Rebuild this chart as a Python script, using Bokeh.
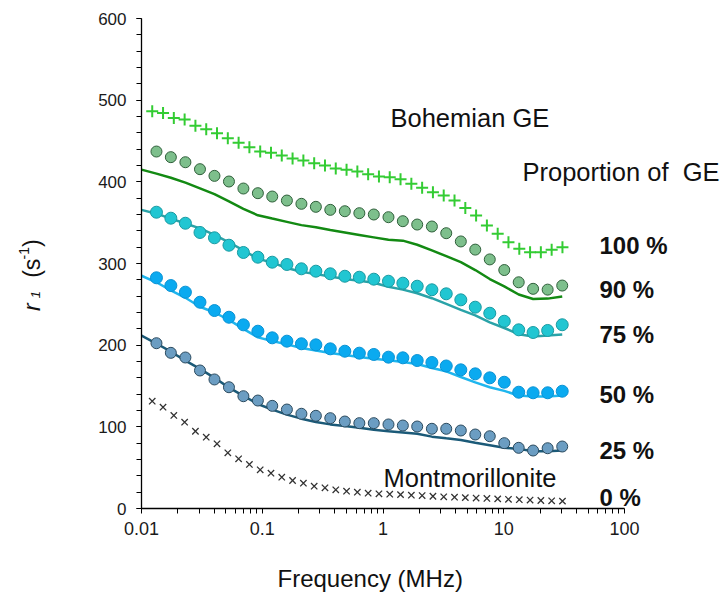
from bokeh.plotting import figure
from bokeh.layouts import row, column
from bokeh.models import Range1d, FixedTicker, Label, NumeralTickFormatter
from bokeh.embed import file_html
from bokeh.resources import INLINE
import math

# ---------------- data ----------------
x_ticks = [0.01, 0.1, 1, 10, 100]
x_tick_labels = ["0.01", "0.1", "1", "10", "100"]
y_ticks = [0, 100, 200, 300, 400, 500, 600]
y_tick_labels = ["0", "100", "200", "300", "400", "500", "600"]

# frequencies (MHz) of the circle data sets
freq_circ = [0.0133, 0.0175, 0.0231, 0.0305, 0.0402, 0.0530, 0.0698, 0.0920, 0.121,
             0.160, 0.211, 0.278, 0.366, 0.483, 0.637, 0.839, 1.11, 1.46, 1.92,
             2.54, 3.34, 4.41, 5.81, 7.66, 10.1, 13.3, 17.5, 23.1, 30.5]
# frequencies of the fitted curves
freq_line = [0.01, 0.0133, 0.0175, 0.0231, 0.0305, 0.0402, 0.0530, 0.0698, 0.0920, 0.121,
             0.160, 0.211, 0.278, 0.366, 0.483, 0.637, 0.839, 1.11, 1.46, 1.92,
             2.54, 3.34, 4.41, 5.81, 7.66, 10.1, 13.3, 17.5, 23.1, 30.5]
# frequencies of the pure samples (+ and x)
freq_pure = [0.01227, 0.01508, 0.01852, 0.02276, 0.02796, 0.03436, 0.04221, 0.05186,
             0.06371, 0.07827, 0.09616, 0.1181, 0.1451, 0.1783, 0.2191, 0.2692, 0.3307,
             0.4063, 0.4991, 0.6132, 0.7534, 0.9256, 1.137, 1.397, 1.717, 2.109, 2.591,
             3.183, 3.911, 4.805, 5.902, 7.252, 8.909, 10.94, 13.45, 16.52, 20.29, 24.93, 30.63]

bohemian_ge = [486.5, 484.4, 478.3, 476.3, 468.6, 464.5, 459.6, 453.5, 447.8, 442.4, 437.1,
               435.5, 432.2, 428.5, 426.1, 422.8, 420, 416.3, 414.7, 412.6, 409.4, 406.5,
               405.6, 403.2, 397.6, 392.7, 387.3, 383.2, 377.1, 368.1, 358.7, 346.5, 336.3,
               326.1, 318, 313.8, 313.8, 316.8, 320]
montmorillonite = [131.4, 124, 113.9, 105.7, 94.6, 87.3, 79.2, 68.2, 60.8, 53.9, 47.4, 43.2,
                   38.3, 34.3, 31, 27.3, 25.3, 22.9, 21.2, 20, 18.7, 18, 17.5, 17, 16.3,
                   15.8, 15, 14.3, 13.8, 13.3, 12.8, 12.3, 11.8, 11.3, 10.8, 10.3, 9.8, 9.4, 9]

circ_90 = [437.1, 430.2, 424, 415.5, 407.3, 400.4, 391.8, 386.1, 382, 377.1, 373.1, 369.4,
           365.7, 364, 361.6, 360, 356.7, 351.8, 347.7, 345.3, 337.1, 327, 317, 305, 292,
           277, 269, 268, 273]
circ_75 = [362.8, 355.5, 349.3, 338, 331.5, 322.4, 313.5, 307.7, 301.6, 298.8, 293.5, 290.6,
           287.4, 284.4, 283.2, 280.8, 278.3, 275.9, 272.2, 267.8, 262.9, 255.5, 246.5, 239.1,
           229.3, 218.8, 215.5, 218, 225]
circ_50 = [282.5, 273, 264.9, 252.6, 242.4, 234.2, 224.9, 217.1, 209, 204.9, 201.7, 200.4,
           195.5, 192.6, 190.2, 188.6, 185.3, 184.5, 181.2, 178.8, 174.5, 169.8, 164.9, 160,
           154.6, 142.4, 141.7, 141.7, 143.6]
circ_25 = [202.4, 190.6, 184.9, 169, 158, 148.5, 137.5, 132.2, 125.7, 121.2, 116, 113.5,
           110.6, 106.5, 104.5, 104.5, 102.9, 101.6, 100.4, 97.6, 97.6, 95.5, 90.6, 88.5, 80,
           74.3, 71, 73.8, 75.9]

line_90 = [415, 410, 405, 399, 392, 385, 376, 367, 359, 355, 351, 347, 344.5, 341, 338, 335,
           332, 329, 328, 323, 316, 309, 301.6, 292, 281, 272, 262, 256.5, 257, 259.6]
line_75 = [365.7, 361, 355, 349, 343, 335, 326, 316, 306, 301, 294.5, 290, 287, 284, 281, 279,
           276.5, 271.5, 268, 263.6, 257.5, 250.5, 243.3, 236.5, 228, 221, 213.5, 210.6, 211.8, 213]
line_50 = [285, 277, 267, 258, 247, 240, 231, 220, 209.5, 205, 201, 196.5, 193.5, 190.5, 188,
           185.5, 183.5, 181.5, 179.5, 177, 172, 168, 161, 154.5, 148.5, 144, 138.3, 137.1,
           137.1, 138.4]
line_25 = [211.8, 202, 192, 181, 171, 160, 148, 138, 128, 121, 115, 110, 106, 103, 101, 99,
           96.5, 94.5, 93, 91.5, 88, 86, 84, 80.5, 77.5, 74.5, 73, 70, 70, 71]

proportion_labels = ["100 %", "90 %", "75 %", "50 %", "25 %", "0 %"]

# ---------------- layout constants (page px) ----------------
FONT = "Liberation Sans"
PAGE_W, PAGE_H = 725, 596
LW = 60                      # width of the left strip holding the y title
MAIN_H = 548                 # height of the main plot row; the x title strip sits below
AX_L, AX_R = 141, 624        # page x of 0.01 and 100
AX_T, AX_B = 18, 508         # page y of 600 and 0
FRAME_R = 723                # frame extends right so that the side labels fit
DEC = (AX_R - AX_L) / 4.0    # px per decade

x_end = 10 ** (-2 + (FRAME_R - AX_L) / DEC)

p = figure(width=PAGE_W - LW, height=MAIN_H, x_axis_type="log",
           x_range=Range1d(0.01, x_end), y_range=Range1d(0, 600),
           output_backend="svg", toolbar_location=None,
           min_border_left=AX_L - LW, min_border_right=PAGE_W - FRAME_R,
           min_border_top=AX_T, min_border_bottom=MAIN_H - AX_B)
p.outline_line_color = None
p.xgrid.visible = False
p.ygrid.visible = False


def cx(px):
    """page x pixel -> data x (log axis)"""
    return 10 ** (-2 + (px - AX_L) / DEC)


def cy(py):
    """page y pixel -> data y"""
    return 600 * (AX_B - py) / (AX_B - AX_T)


minor = [m * 10 ** e for e in range(-2, 2) for m in range(2, 10)]
p.xaxis.ticker = FixedTicker(ticks=x_ticks, minor_ticks=minor)
p.xaxis.formatter = NumeralTickFormatter(format="0.[00]")
p.xaxis.major_label_overrides = dict(zip(x_ticks, x_tick_labels))
p.xaxis.bounds = (x_ticks[0], x_ticks[-1])
p.yaxis.ticker = FixedTicker(ticks=y_ticks, minor_ticks=list(range(0, 601, 20)))
p.yaxis.major_label_overrides = dict(zip(y_ticks, y_tick_labels))

for ax in (p.xaxis, p.yaxis):
    ax.axis_line_color = "black"
    ax.axis_line_width = 1.3
    ax.major_tick_line_color = "black"
    ax.minor_tick_line_color = "black"
    ax.major_tick_in = 0
    ax.minor_tick_in = 0
    ax.major_tick_out = 5
    ax.minor_tick_out = 5
    ax.major_label_text_font = FONT
    ax.major_label_text_color = "#1a1a1a"
p.xaxis.major_label_text_font_size = "18px"
p.yaxis.major_label_text_font_size = "17px"
p.xaxis.major_label_standoff = 8
p.yaxis.major_label_standoff = 10

# ---------------- curves ----------------
p.line(freq_line, line_90, line_color="#138a13", line_width=2.5)
p.line(freq_line, line_75, line_color="#2aa3a8", line_width=2.5)
p.line(freq_line, line_50, line_color="#1fb6ee", line_width=2.5)
p.line(freq_line, line_25, line_color="#1b5a78", line_width=2.5)

p.scatter(freq_pure, bohemian_ge, marker="cross", size=12, line_color="#33cc33", line_width=2)
p.scatter(freq_pure, montmorillonite, marker="x", size=9, line_color="#333333", line_width=1.3)

p.scatter(freq_circ, circ_90, marker="circle", size=11, fill_color="#7dbf8c", line_color="#2f5f3a", line_width=1)
p.scatter(freq_circ, circ_75, marker="circle", size=12, fill_color="#21c6d2", line_color="#1a9aa2", line_width=1)
p.scatter(freq_circ, circ_50, marker="circle", size=12, fill_color="#0aaaf0", line_color="#0a92d4", line_width=1)
p.scatter(freq_circ, circ_25, marker="circle", size=11, fill_color="#6b9dc2", line_color="#2b4a5e", line_width=1)


# ---------------- annotations ----------------
def add_label(text, px, py, size, style="normal"):
    p.add_layout(Label(x=cx(px), y=cy(py), text=text, text_font=FONT,
                       text_font_size=size, text_align="left", text_baseline="middle",
                       text_font_style=style, text_color="#111111"))


add_label("Bohemian GE", 390, 117, "25.5px")
add_label("Proportion of\u00a0 GE", 522, 171, "25.5px")
add_label("Montmorillonite", 383, 477, "25.5px")
prop_y = [245, 289, 334, 394, 450, 497]
for t, yy in zip(proportion_labels, prop_y):
    add_label(t, 599, yy, "24px", style="bold")


def strip(width, height, x0, y0):
    """a bare figure whose data coordinates equal page pixels"""
    f = figure(width=width, height=height, x_range=Range1d(x0, x0 + width),
               y_range=Range1d(y0 + height, y0),
               output_backend="svg", toolbar_location=None,
               x_axis_location=None, y_axis_location=None,
               min_border_left=0, min_border_right=0, min_border_top=0, min_border_bottom=0)
    f.outline_line_color = None
    f.xgrid.visible = False
    f.ygrid.visible = False
    return f


# ---------------- left strip: y-axis title r_1 (s^-1) ----------------
left = strip(LW, MAIN_H, 0, 0)
rot = math.pi / 2


def add_ylab(text, px, py, size, style="normal"):
    left.add_layout(Label(x=px, y=py, text=text, text_font=FONT, text_font_size=size,
                          text_align="left", text_baseline="alphabetic",
                          text_font_style=style, text_color="#111111", angle=rot))


add_ylab("r", 31.5, 327, "23px", style="italic")
add_ylab("1", 35, 313, "13px", style="italic")
add_ylab("(s", 31.5, 290, "23px")
add_ylab("-1", 23.5, 269.5, "14px")
add_ylab(")", 31.5, 255.5, "23px")

# ---------------- bottom strip: x-axis title ----------------
bottom = strip(PAGE_W, PAGE_H - MAIN_H - 2, 0, MAIN_H)
bottom.add_layout(Label(x=277, y=578, text="Frequency (MHz)", text_font=FONT,
                        text_font_size="24px", text_align="left", text_baseline="middle",
                        text_color="#111111"))

layout = column(row(left, p), bottom)
open("out.html", "w").write(file_html(layout, INLINE))
